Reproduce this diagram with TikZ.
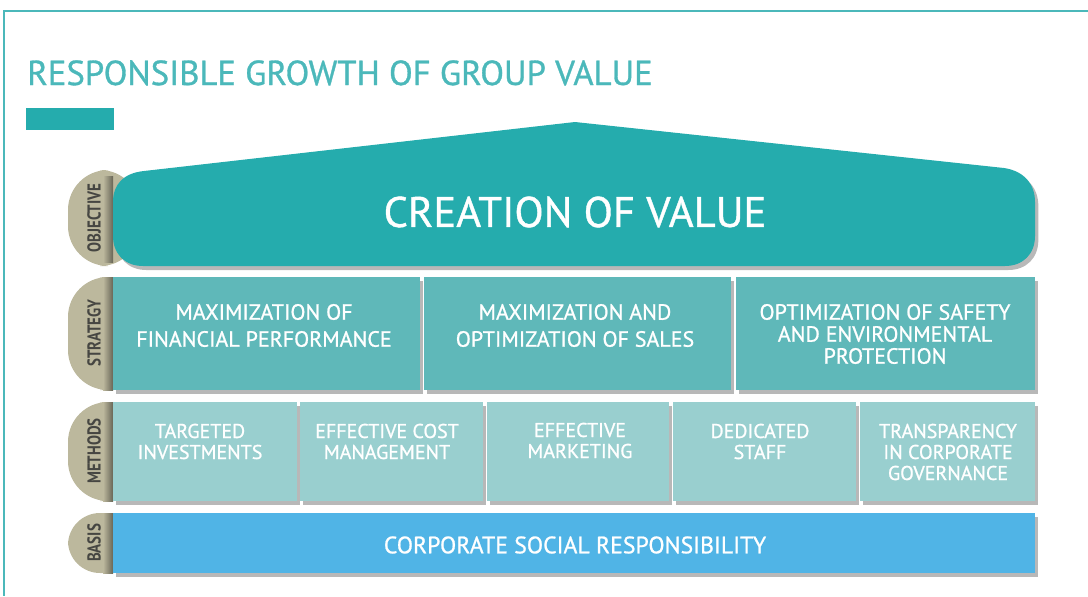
\documentclass[tikz,border=0pt]{standalone}
\usepackage{fontspec}
\setmainfont{PT Sans}[FakeBold=0.9]
\newfontfamily\tabfont[FakeStretch=0.8]{PT Sans}
\usepackage{xcolor}
\definecolor{Teal}{RGB}{37,172,173}
\definecolor{TitleCol}{RGB}{75,184,186}
\definecolor{StratCol}{RGB}{95,184,185}
\definecolor{MethCol}{RGB}{153,207,207}
\definecolor{BasisCol}{RGB}{80,180,230}
\definecolor{Khaki}{RGB}{188,184,157}
\definecolor{TabText}{RGB}{70,70,66}
\usepackage{tikz}
\usetikzlibrary{fit}
\usetikzlibrary{shadows}
\tikzstyle{Shadow}=[drop shadow={shadow xshift=2.5pt,shadow yshift=-3pt,
    fill=black,opacity=.28}]
\tikzstyle{Tab}=[fill=Khaki]
\tikzstyle{TabLabel}=[rotate=90,text=TabText,font=\tabfont\fontsize{14}{16}\selectfont\bfseries]
\tikzstyle{Box}=[inner sep=0pt,Shadow]
\tikzstyle{SBox}=[Box,fill=StratCol]
\tikzstyle{MBox}=[Box,fill=MethCol]
\tikzstyle{BBox}=[Box,fill=BasisCol]
\tikzstyle{STxt}=[text=white,align=center,font=\fontsize{16.5}{20.25}\selectfont]
\tikzstyle{MTxt}=[text=white,align=center,font=\fontsize{15}{15.75}\selectfont]

\begin{document}
\begin{tikzpicture}[x=0.75pt,y=-0.75pt]
        \useasboundingbox (0,0) rectangle (1088,596);
        % frame and title
        \draw[TitleCol,line width=1pt](1088,11)--(4,11)--(4,596);
        \node[anchor=base west,inner sep=0pt,text=TitleCol,
            font=\fontsize{26}{30}\selectfont](title)at(27,85)
            {RESPONSIBLE GROWTH OF GROUP VALUE};
        \fill[Teal](26,108)rectangle(114,130);
        % tabs
        \fill[Tab,rounded corners=30](140,170)--(68,170)--(68,266)--(140,266)--cycle;
        \fill[Tab,rounded corners=30](140,277)--(68,277)--(68,390)--(140,390)--cycle;
        \fill[Tab,rounded corners=30](140,402)--(68,402)--(68,501)--(140,501)--cycle;
        \fill[Tab,rounded corners=24](140,513)--(68,513)--(68,573)--(140,573)--cycle;
        \foreach \ya/\yb in {176/262,277/390,402/501,513/573}
            \shade[left color=Khaki,right color=Khaki!55!black](103,\ya)rectangle(113,\yb);
        \node[TabLabel](tObj)at(94,218){OBJECTIVE};
        \node[TabLabel](tStr)at(94,333){STRATEGY};
        \node[TabLabel](tMet)at(94,451){METHODS};
        \node[TabLabel](tBas)at(94,543){BASIS};
        % objective
        \fill[Teal,Shadow](113,236)--(113,202)..controls(113,184)and(124,173)..(144,171)
            --(575,122)--(1004,168)..controls(1024,171)and(1035,184)..(1035,202)
            --(1035,236)..controls(1035,254)and(1023,266)..(1005,266)
            --(143,266)..controls(125,266)and(113,254)..(113,236)--cycle;
        \node[text=white,font=\fontsize{32}{36}\selectfont](Obj)at(575,212)
            {CREATION OF VALUE};
        % strategy
        \node[SBox,fit={(113,277)(420,390)}](S1){};
        \node[SBox,fit={(424,277)(731,390)}](S2){};
        \node[SBox,fit={(736,277)(1035,390)}](S3){};
        \node[STxt](S1t)at(264,325.5){MAXIMIZATION OF\\FINANCIAL PERFORMANCE};
        \node[STxt](S2t)at(575,325.5){MAXIMIZATION AND\\OPTIMIZATION OF SALES};
        \node[STxt,font=\fontsize{16.5}{16.5}\selectfont](S3t)at(885,334)
            {OPTIMIZATION OF SAFETY\\AND ENVIRONMENTAL\\PROTECTION};
        % methods
        \node[MBox,fit={(113,402)(297,501)}](M1){};
        \node[MBox,fit={(300,402)(483,501)}](M2){};
        \node[MBox,fit={(487,402)(669,501)}](M3){};
        \node[MBox,fit={(673,402)(856,501)}](M4){};
        \node[MBox,fit={(860,402)(1035,501)}](M5){};
        \node[MTxt](M1t)at(200,441.5){TARGETED\\INVESTMENTS};
        \node[MTxt](M2t)at(387,441.5){EFFECTIVE COST\\MANAGEMENT};
        \node[MTxt](M3t)at(580,440.5){EFFECTIVE\\MARKETING};
        \node[MTxt](M4t)at(760,441.5){DEDICATED\\STAFF};
        \node[MTxt](M5t)at(948,452){TRANSPARENCY\\IN CORPORATE\\GOVERNANCE};
        % basis
        \node[BBox,fit={(113,513)(1035,573)}](B){};
        \node[text=white,font=\fontsize{17.8}{20}\selectfont](Bt)at(575,545)
            {CORPORATE SOCIAL RESPONSIBILITY};
\end{tikzpicture}
\end{document}
